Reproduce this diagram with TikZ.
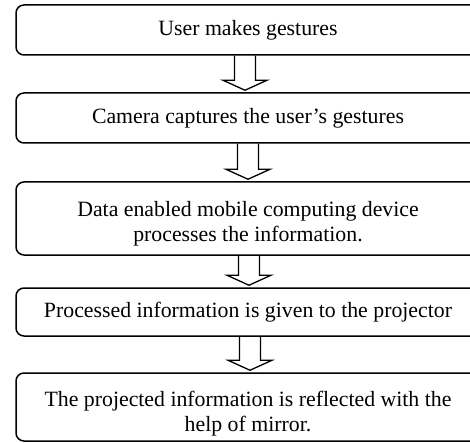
\documentclass[tikz,border=0pt]{standalone}
\usepackage{fontspec}
\setmainfont{Liberation Serif}
\usetikzlibrary{calc}

% hollow block arrow from the bottom of one box to the top of the next
% #1: horizontal offset, #2: upper box, #3: lower box
\newcommand\blockarrow[3][0]{%
  \draw[blockarr]
    ($(#2.south)+(#1-10.5,0)$) --
    ($(#3.north)+(#1-10.5,-12)$) --
    ($(#3.north)+(#1-22,-12)$) --
    ($(#3.north)+(#1,-2)$) --
    ($(#3.north)+(#1+22,-12)$) --
    ($(#3.north)+(#1+10.5,-12)$) --
    ($(#2.south)+(#1+10.5,0)$);
}

\tikzset{
  stepbox/.style={draw=black, line width=1.5pt, rounded corners=8pt,
    minimum width=464pt, inner sep=0pt, align=center,
    font=\fontsize{21.8}{25}\selectfont},
  blockarr/.style={draw=black, line width=1.3pt, line join=miter}
}

\begin{document}
\begin{tikzpicture}[x=1pt,y=-1pt]
\useasboundingbox (0,0) rectangle (470,443);
\clip (0,0) rectangle (470,443);

\node[stepbox, minimum height=50pt] (b1) at (248,30) {User makes gestures};
\node[stepbox, minimum height=50pt] (b2) at (248,118) {Camera captures the user’s gestures};
\node[stepbox, minimum height=73pt] (b3) at (248,218.5)
  {\rule{0pt}{25pt}Data enabled mobile computing device\\processes the information.};
\node[stepbox, minimum height=48pt] (b4) at (248,312) {Processed information is given to the projector};
\node[stepbox, minimum height=68pt] (b5) at (248,407)
  {\rule{0pt}{29pt}The projected information is reflected with the\\help of mirror.};

\blockarrow[-3]{b1}{b2}
\blockarrow[0]{b2}{b3}
\blockarrow[1]{b3}{b4}
\blockarrow[2]{b4}{b5}
\end{tikzpicture}
\end{document}
